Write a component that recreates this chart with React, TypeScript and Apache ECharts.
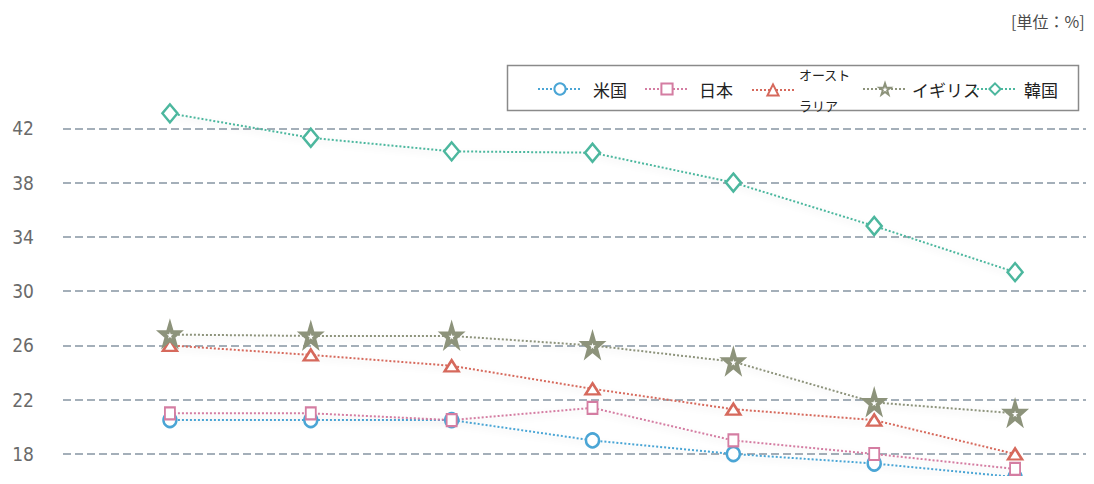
import React, { useEffect, useRef } from "react";
import * as echarts from "echarts";

const periods = ["P1", "P2", "P3", "P4", "P5", "P6", "P7"];
const yTicks = { min: 18, max: 42, interval: 4 };

const usValues = [20.5, 20.5, 20.5, 19.0, 18.0, 17.3, 16.3];
const japanValues = [21.0, 21.0, 20.5, 21.4, 19.0, 18.0, 16.9];
const australiaValues = [26.0, 25.3, 24.5, 22.8, 21.3, 20.5, 18.0];
const ukValues = [26.8, 26.7, 26.7, 26.0, 24.8, 21.8, 21.0];
const koreaValues = [43.1, 41.3, 40.3, 40.2, 38.0, 34.8, 31.4];

const seriesNames = ["米国", "日本", "オーストラリア", "イギリス", "韓国"];
const unitLabel = "[単位：%]";

const STAR =
  "path://M50,2 L61.5,36 L97,36 L68.5,57.5 L79.5,92 L50,71 L20.5,92 L31.5,57.5 L3,36 L38.5,36 Z";

export default function App() {
  const ref = useRef<HTMLDivElement>(null);

  useEffect(() => {
    if (!ref.current) return;
    const chart = echarts.init(ref.current, null, { renderer: "svg" });

    const defs = [
      { name: seriesNames[0], data: usValues, color: "#4aa5d5", symbol: "circle", size: [13, 14], bw: 2.5 },
      { name: seriesNames[1], data: japanValues, color: "#d47da2", symbol: "rect", size: [10, 12], bw: 2 },
      { name: seriesNames[2], data: australiaValues, color: "#d6695c", symbol: "triangle", size: [14, 11], bw: 2.5 },
      { name: seriesNames[3], data: ukValues, color: "#8d937b", symbol: STAR, size: [17, 19], bw: 4 },
      { name: seriesNames[4], data: koreaValues, color: "#4cb79e", symbol: "diamond", size: [15, 18], bw: 2.5 },
    ];

    const legendLefts = [537, 644, 751, 862, 972];
    const itemWidths = [44, 44, 42, 44, 44];
    const textPads = [6, 5, 0, 0, 2];

    const legends = defs.map((d, i) => {
      const isAus = i === 2;
      return {
        show: true,
        data: [d.name],
        left: legendLefts[i],
        top: isAus ? 59 : 79,
        padding: 0,
        itemWidth: itemWidths[i],
        itemHeight: 14,
        selectedMode: false,
        formatter: (name: string) =>
          name === "オーストラリア" ? "{s|オースト}\n{s|ラリア}" : name,
        textStyle: {
          fontFamily: "Noto Sans CJK JP",
          fontSize: 17,
          color: "#222",
          lineHeight: 20,
          padding: [0, 0, 0, textPads[i]],
          rich: {
            s: { fontFamily: "Noto Sans CJK JP", fontSize: 13, lineHeight: 31, color: "#222" },
          },
        },
      };
    });

    const option: any = {
      animation: false,
      backgroundColor: "#ffffff",
      grid: [
        { left: 63, right: 0, top: 128.3, bottom: 30 },
        { left: 99.5, right: 8.5, top: 128.3, bottom: 30 },
      ],
      xAxis: [
        { type: "value", gridIndex: 0, show: false, min: 0, max: 1 },
        {
          type: "category",
          gridIndex: 1,
          data: periods,
          boundaryGap: true,
          show: false,
        },
      ],
      yAxis: [
        {
          type: "value",
          gridIndex: 0,
          min: yTicks.min,
          max: yTicks.max,
          interval: yTicks.interval,
          axisLine: { show: false },
          axisTick: { show: false },
          axisLabel: {
            margin: 29,
            fontFamily: "'DejaVu Sans Condensed', 'Liberation Sans', sans-serif",
            fontSize: 19,
            color: "#6a6a6a",
          },
          splitLine: {
            show: true,
            lineStyle: { color: "#8795a2", width: 1.6, type: [8, 4] },
          },
        },
        {
          type: "value",
          gridIndex: 1,
          min: yTicks.min,
          max: yTicks.max,
          interval: yTicks.interval,
          show: false,
          splitLine: { show: false },
        },
      ],
      legend: legends,
      graphic: [
        {
          type: "rect",
          shape: { x: 507.5, y: 65.5, width: 571, height: 45 },
          style: { fill: "none", stroke: "#8a8a8a", lineWidth: 1.5 },
          z: 0,
        },
        {
          type: "text",
          x: 1011,
          y: 13,
          style: {
            text: unitLabel,
            font: "16px 'Noto Sans CJK JP'",
            fill: "#4a4a4a",
          },
        },
      ],
      series: defs.map((d) => ({
        name: d.name,
        type: "line",
        xAxisIndex: 1,
        yAxisIndex: 1,
        data: d.data,
        clip: false,
        symbol: d.symbol,
        symbolSize: d.size,
        showAllSymbol: true,
        lineStyle: {
          color: d.color,
          width: 2,
          type: "dotted",
          shadowColor: "rgba(0,0,0,0.12)",
          shadowBlur: 6,
          shadowOffsetY: 3,
        },
        itemStyle: { color: "#ffffff", borderColor: d.color, borderWidth: d.bw },
        emphasis: { disabled: true },
      })),
    };

    chart.setOption(option);
    return () => chart.dispose();
  }, []);

  return <div ref={ref} style={{ width: 1094, height: 484, margin: -8 }} />;
}
